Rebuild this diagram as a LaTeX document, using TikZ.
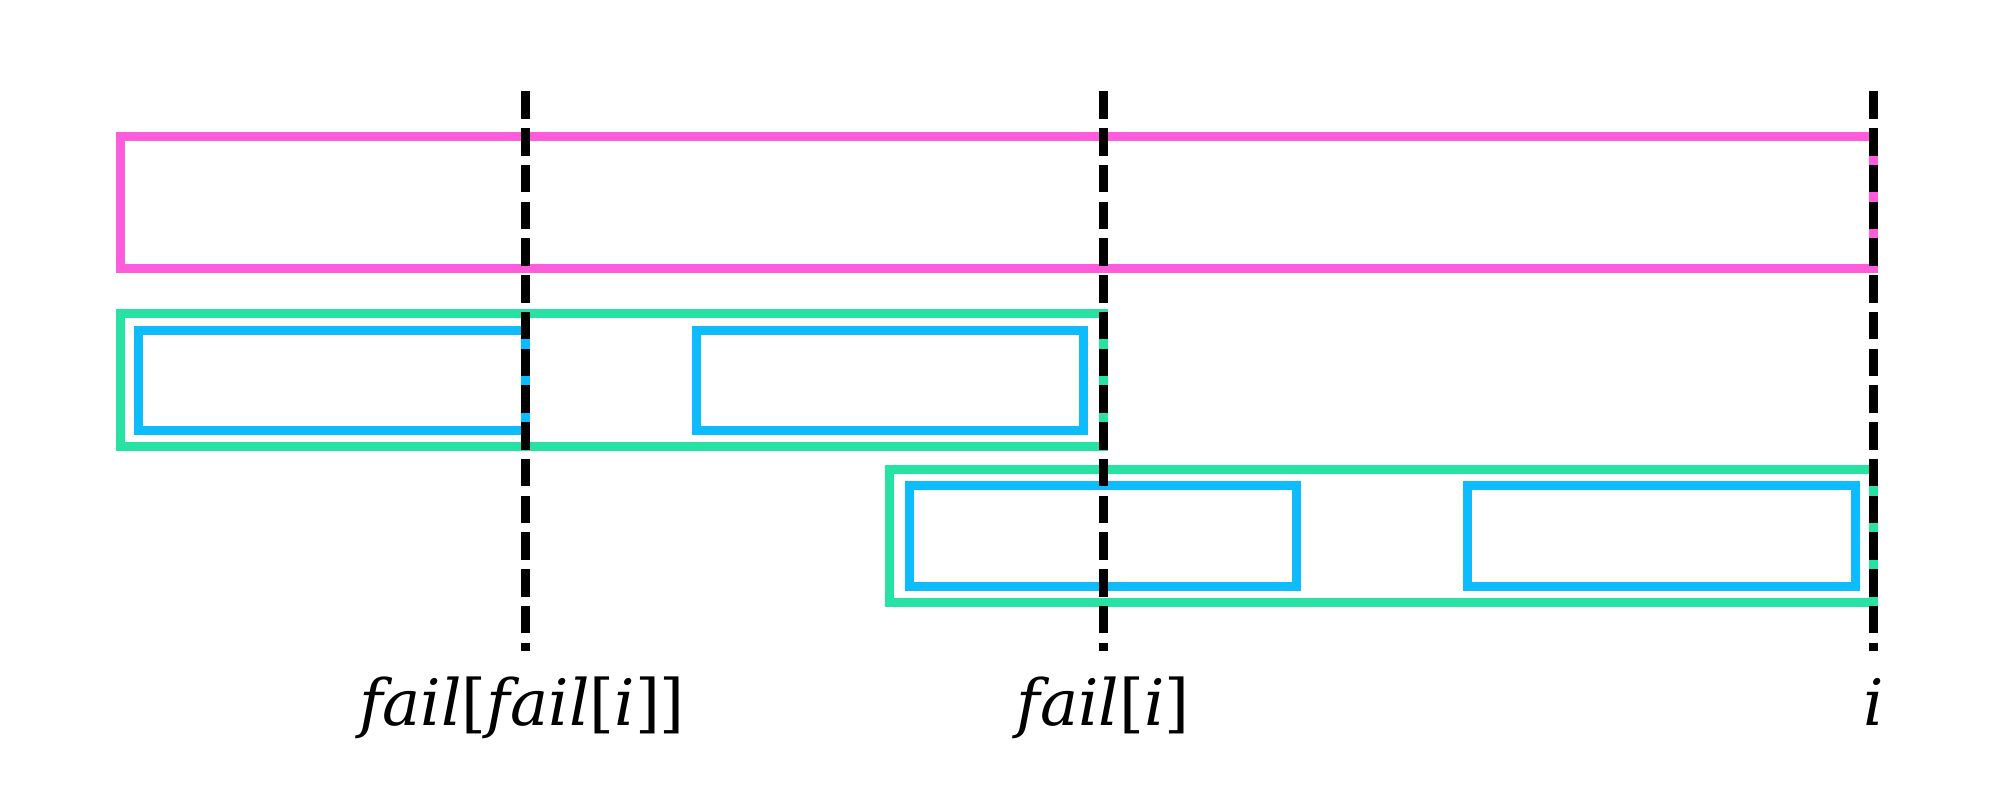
\documentclass[tikz,border=0pt]{standalone}
\usepackage{fontspec}
\newfontfamily\lblfont{DejaVu Serif}
\newcommand{\mv}[1]{\textit{#1}}
\begin{document}
\begin{tikzpicture}[x=0.5pt,y=-0.5pt,
  pinkbox/.style={draw=boxpink,line width=4.5pt},
  greenbox/.style={draw=boxgreen,line width=4.5pt},
  bluebox/.style={draw=boxblue,line width=4.5pt},
  divider/.style={draw=black,line width=4.5pt,dash pattern=on 13.75pt off 4.625pt},
  lbl/.style={anchor=base,inner sep=0pt,font=\lblfont\fontsize{32}{32}\selectfont}]
\definecolor{boxpink}{HTML}{FF5CDD}
\definecolor{boxgreen}{HTML}{26E2A3}
\definecolor{boxblue}{HTML}{0CBCFF}
\useasboundingbox (0,0) rectangle (1992,812);
% pink
\draw[pinkbox] (120.5,136.5) rectangle (1873.5,268.2);
% green 1 with two blue
\draw[greenbox] (120.5,313.5) rectangle (1103.5,446.2);
\draw[bluebox] (138.5,330.5) rectangle (525.5,430.2);
\draw[bluebox] (696,330.5) rectangle (1083.5,430.2);
% green 2 with two blue
\draw[greenbox] (889.5,469.5) rectangle (1873.5,602.5);
\draw[bluebox] (909.5,485.5) rectangle (1296,586.5);
\draw[bluebox] (1467,485.5) rectangle (1855,586.5);
% labels
\node[lbl] (ffi) at (522,725) {\mv{fail}[\mv{fail}[\mv{i}]]};
\node[lbl] (fi) at (1103,725) {\mv{fail}[\mv{i}]};
\node[lbl] (ii) at (1874,725) {\mv{i}};
% dividers
\coordinate (t1) at (525.5,91.3);
\coordinate (b1) at (525.5,651);
\coordinate (t2) at (1103.5,91.3);
\coordinate (b2) at (1103.5,651);
\coordinate (t3) at (1873.5,91.3);
\coordinate (b3) at (1873.5,651);
\draw[divider] (t1) -- (b1);
\draw[divider] (t2) -- (b2);
\draw[divider] (t3) -- (b3);
\end{tikzpicture}
\end{document}
